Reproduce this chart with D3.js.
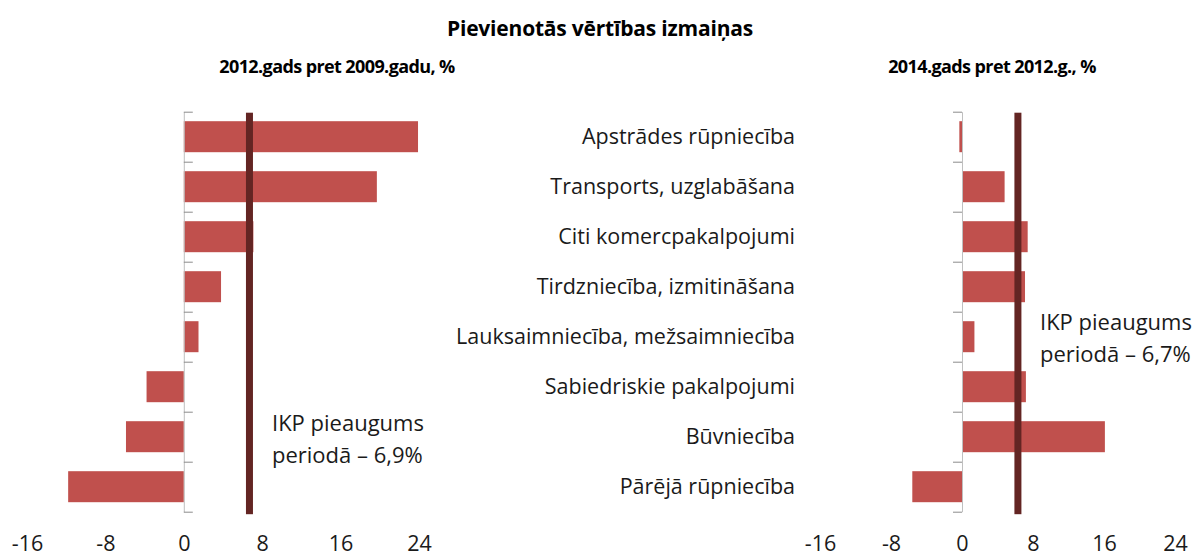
<!DOCTYPE html>
<html>
<head>
<meta charset="utf-8">
<script src="https://cdn.jsdelivr.net/npm/d3@7"></script>
<style>
body { margin: 0; background: #fff; }
svg { font-family: "Open Sans", "Noto Sans", sans-serif; }
.axis path.domain { stroke: #bfbfbf; }
.axis line { stroke: #8c8c8c; }
</style>
</head>
<body>
<script>
var width = 1197;
var height = 556;

// data
var categories = ["Apstrādes rūpniecība", "Transports, uzglabāšana", "Citi komercpakalpojumi",
  "Tirdzniecība, izmitināšana", "Lauksaimniecība, mežsaimniecība", "Sabiedriskie pakalpojumi",
  "Būvniecība", "Pārējā rūpniecība"];
var change2012 = [23.9, 19.7, 7.1, 3.8, 1.5, -3.8, -5.9, -11.8];   // 2012 vs 2009
var change2014 = [-0.3, 4.8, 7.4, 7.1, 1.4, 7.2, 16.1, -5.6];      // 2014 vs 2012
var gdpLine = [6.7, 6.3];   // where the GDP line is drawn
var gdpText = [["IKP pieaugums", "periodā – 6,9%"], ["IKP pieaugums", "periodā – 6,7%"]];
var xTicks = [-16, -8, 0, 8, 16, 24];
var title = "Pievienotās vērtības izmaiņas";
var subtitles = ["2012.gads pret 2009.gadu, %", "2014.gads pret 2012.g., %"];

var svg = d3.select("body").append("svg")
  .attr("width", width)
  .attr("height", height);

var yTop = 111.7, yBottom = 511.7;

var y = d3.scaleBand()
  .domain(categories)
  .range([yTop, yBottom])
  .paddingInner(0.38)
  .paddingOuter(0.19);

// index scale for the band boundary ticks
var yIdx = d3.scaleLinear().domain([0, categories.length]).range([yTop, yBottom]);

var panels = [
  {values: change2012, x: d3.scaleLinear().domain([-16, 24]).range([27, 419]), side: "right",
   gdp: gdpLine[0], text: gdpText[0], tx: 272, ty: 431, subX: 337},
  {values: change2014, x: d3.scaleLinear().domain([-16, 24]).range([820, 1175]), side: "left",
   gdp: gdpLine[1], text: gdpText[1], tx: 1040, ty: 330, subX: 992}
];

panels.forEach(function(p) {
  var g = svg.append("g");

  // bars
  g.selectAll("rect.bar")
    .data(p.values)
    .enter().append("rect")
    .attr("class", "bar")
    .attr("x", function(d) { return p.x(Math.min(0, d)); })
    .attr("width", function(d) { return Math.abs(p.x(d) - p.x(0)); })
    .attr("y", function(d, i) { return y(categories[i]); })
    .attr("height", y.bandwidth())
    .style("fill", "#c0504d");

  // category axis at zero
  var ax = (p.side === "right" ? d3.axisRight(yIdx) : d3.axisLeft(yIdx))
    .tickValues(d3.range(categories.length + 1))
    .tickFormat("")
    .tickSize(9)
    .tickSizeOuter(0);
  g.append("g")
    .attr("class", "axis")
    .attr("transform", "translate(" + p.x(0) + ",0)")
    .call(ax);

  // GDP line
  g.append("rect")
    .attr("x", p.x(p.gdp) - 3.5)
    .attr("width", 7)
    .attr("y", yTop + 1)
    .attr("height", yBottom - yTop + 1.5)
    .style("fill", "#632523");

  // value axis, labels only
  var xa = g.append("g")
    .attr("transform", "translate(0,532)")
    .call(d3.axisBottom(p.x).tickValues(xTicks).tickSize(0).tickPadding(4)
      .tickFormat(function(d) { return String(d); }));
  xa.select(".domain").remove();
  xa.selectAll("text")
    .style("font-family", "'Open Sans', sans-serif")
    .style("font-size", "21.5px")
    .style("fill", "#1a1a1a");

  // annotation
  g.selectAll("text.note")
    .data(p.text)
    .enter().append("text")
    .attr("class", "note")
    .attr("x", p.tx)
    .attr("y", function(d, i) { return p.ty + i * 32; })
    .style("font-size", "22px")
    .style("fill", "#1a1a1a")
    .text(function(d) { return d; });
});

// category labels
svg.selectAll("text.cat")
  .data(categories)
  .enter().append("text")
  .attr("class", "cat")
  .attr("x", 795)
  .attr("y", function(d) { return y(d) + y.bandwidth() / 2; })
  .attr("dy", "0.35em")
  .style("text-anchor", "end")
  .style("font-size", "21.5px")
  .style("fill", "#1a1a1a")
  .text(function(d) { return d; });

// titles
svg.append("text")
  .attr("x", 600)
  .attr("y", 36)
  .style("text-anchor", "middle")
  .style("font-size", "21px")
  .style("font-weight", "bold")
  .style("letter-spacing", "-0.2px")
  .text(title);

svg.selectAll("text.sub")
  .data(subtitles)
  .enter().append("text")
  .attr("class", "sub")
  .attr("x", function(d, i) { return panels[i].subX; })
  .attr("y", 73)
  .style("text-anchor", "middle")
  .style("font-size", "18px")
  .style("font-weight", "bold")
  .style("letter-spacing", "-0.6px")
  .text(function(d) { return d; });
</script>
</body>
</html>
